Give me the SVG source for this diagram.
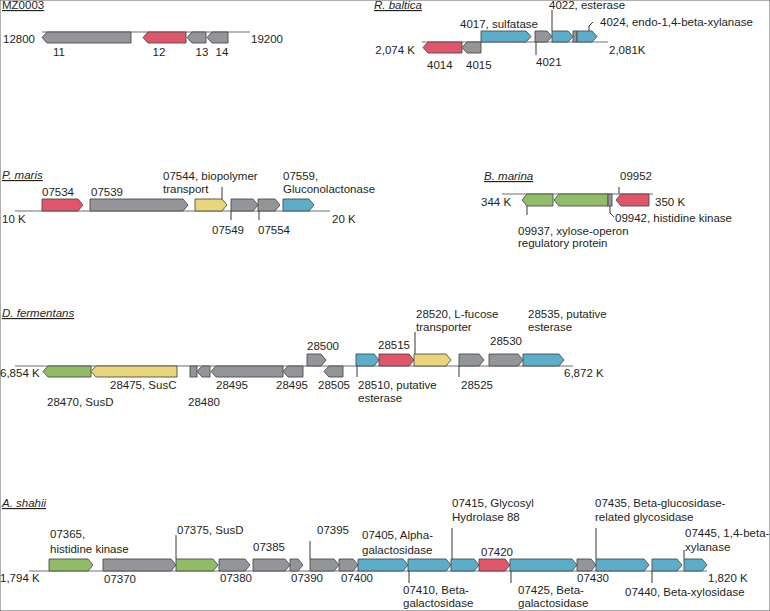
<svg xmlns="http://www.w3.org/2000/svg" width="770" height="611" viewBox="0 0 770 611">
<style>
text{font-family:"Liberation Sans",Arial,sans-serif;font-size:11.5px;fill:#231f20}
.t{text-decoration:underline;font-style:italic}
.tn{text-decoration:underline}
.ln{stroke:#6d6e71;stroke-width:1.2;fill:none}
.ld{stroke:#231f20;stroke-width:0.9;fill:none}
polygon,rect{stroke:#4d4d4f;stroke-width:0.9}
.g{fill:#939598}.r{fill:#e05569}.b{fill:#5badc8}.y{fill:#e9d67a}.gr{fill:#92bc66}
</style>
<rect width="770" height="611" fill="#fff" stroke="none"/>

<g id="MZ0003">
<text class="tn" x="2" y="9">MZ0003</text>
<line class="ln" x1="42" y1="32" x2="250" y2="32"/>
<polygon class="g" points="42,37.5 47,32 131,32 131,43 47,43"/>
<polygon class="r" points="143,37.5 148,32 186,32 186,43 148,43"/>
<polygon class="g" points="187,37.5 192,32 206,32 206,43 192,43"/>
<polygon class="g" points="207,37.5 212,32 228,32 228,43 212,43"/>
<text x="3" y="43">12800</text>
<text x="251" y="43">19200</text>
<text x="59" y="56" text-anchor="middle">11</text>
<text x="159" y="56" text-anchor="middle">12</text>
<text x="202" y="56" text-anchor="middle">13</text>
<text x="222" y="56" text-anchor="middle">14</text>
</g>

<g id="R_baltica">
<text class="t" x="374" y="9">R. baltica</text>
<line class="ln" x1="422" y1="42" x2="608" y2="42"/>
<polygon class="r" points="423,47.5 428,42 462,42 462,53 428,53"/>
<polygon class="g" points="462,47.5 467,42 481,42 481,53 467,53"/>
<polygon class="b" points="481,31 526,31 531,36.5 526,42 481,42"/>
<polygon class="g" points="535,31 547,31 552,36.5 547,42 535,42"/>
<polygon class="b" points="552,31 568,31 573,36.5 568,42 552,42"/>
<rect class="g" x="573" y="31" width="4" height="11"/>
<polygon class="b" points="577,31 592,31 597,36.5 592,42 577,42"/>
<text x="415" y="54" text-anchor="end">2,074 K</text>
<text x="609" y="54">2,081K</text>
<text x="460" y="28">4017, sulfatase</text>
<text x="549" y="9">4022, esterase</text>
<text x="600" y="26">4024, endo-1,4-beta-xylanase</text>
<text x="427" y="69">4014</text>
<text x="466" y="69">4015</text>
<text x="536" y="66">4021</text>
</g>

<g id="P_maris">
<text class="t" x="2" y="179">P. maris</text>
<line class="ln" x1="15" y1="211" x2="330" y2="211"/>
<polygon class="r" points="42,199 78,199 83,205 78,211 42,211"/>
<polygon class="g" points="90,199 183,199 188,205 183,211 90,211"/>
<polygon class="y" points="195,199 222,199 227,205 222,211 195,211"/>
<polygon class="g" points="231,199 253,199 258,205 253,211 231,211"/>
<polygon class="g" points="258,199 275,199 280,205 275,211 258,211"/>
<polygon class="b" points="283,199 309,199 314,205 309,211 283,211"/>
<text x="2" y="223">10 K</text>
<text x="332" y="223">20 K</text>
<text x="42" y="196">07534</text>
<text x="91" y="196">07539</text>
<text x="163" y="180">07544, biopolymer</text>
<text x="163" y="193">transport</text>
<text x="283" y="180">07559,</text>
<text x="283" y="193">Gluconolactonase</text>
<text x="212" y="234">07549</text>
<text x="258" y="234">07554</text>
</g>

<g id="B_marina">
<text class="t" x="484" y="180">B. marina</text>
<line class="ln" x1="502" y1="194" x2="653" y2="194"/>
<polygon class="gr" points="522,200 527,194 553,194 553,206 527,206"/>
<polygon class="gr" points="554,200 559,194 608,194 608,206 559,206"/>
<rect class="g" x="608" y="194" width="4" height="12"/>
<polygon class="r" points="616,200 621,194 649,194 649,206 621,206"/>
<text x="481" y="206">344 K</text>
<text x="655" y="206">350 K</text>
<text x="620" y="180">09952</text>
<text x="615" y="222">09942, histidine kinase</text>
<text x="518" y="235">09937, xylose-operon</text>
<text x="518" y="247">regulatory protein</text>
</g>

<g id="D_fermentans">
<text class="t" x="2" y="317">D. fermentans</text>
<line class="ln" x1="15" y1="366" x2="573" y2="366"/>
<polygon class="gr" points="43,371.5 48,366 91,366 91,377 48,377"/>
<polygon class="y" points="91,371.5 96,366 177,366 177,377 96,377"/>
<rect class="g" x="190" y="366" width="7" height="11"/>
<polygon class="g" points="197,371.5 202,366 210,366 210,377 202,377"/>
<polygon class="g" points="211,371.5 216,366 283,366 283,377 216,377"/>
<polygon class="g" points="283,371.5 288,366 303,366 303,377 288,377"/>
<polygon class="g" points="324,371.5 329,366 343,366 343,377 329,377"/>
<polygon class="g" points="307,354 321,354 326,360 321,366 307,366"/>
<polygon class="b" points="356,354 374,354 379,360 374,366 356,366"/>
<polygon class="r" points="379,354 409,354 414,360 409,366 379,366"/>
<polygon class="y" points="414,354 446,354 451,360 446,366 414,366"/>
<polygon class="g" points="459,354 479,354 484,360 479,366 459,366"/>
<polygon class="g" points="489,354 518,354 523,360 518,366 489,366"/>
<polygon class="b" points="523,354 559,354 564,360 559,366 523,366"/>
<text x="0" y="377">6,854 K</text>
<text x="564" y="377">6,872 K</text>
<text x="307" y="350">28500</text>
<text x="378" y="349">28515</text>
<text x="416" y="318">28520, L-fucose</text>
<text x="416" y="331">transporter</text>
<text x="528" y="318">28535, putative</text>
<text x="528" y="331">esterase</text>
<text x="490" y="345">28530</text>
<text x="461" y="389">28525</text>
<text x="358" y="389">28510, putative</text>
<text x="358" y="402">esterase</text>
<text x="110" y="389">28475, SusC</text>
<text x="216" y="389">28495</text>
<text x="276" y="389">28495</text>
<text x="318" y="389">28505</text>
<text x="47" y="406">28470, SusD</text>
<text x="188" y="406">28480</text>
</g>

<g id="A_shahii">
<text class="t" x="2" y="507">A. shahii</text>
<line class="ln" x1="29" y1="571" x2="707" y2="571"/>
<polygon class="gr" points="49,559 88,559 93,565 88,571 49,571"/>
<polygon class="g" points="103,559 171,559 176,565 171,571 103,571"/>
<polygon class="gr" points="176,559 213,559 218,565 213,571 176,571"/>
<polygon class="g" points="219,559 245,559 250,565 245,571 219,571"/>
<polygon class="g" points="253,559 285,559 290,565 285,571 253,571"/>
<polygon class="g" points="290,559 298,559 303,565 298,571 290,571"/>
<polygon class="g" points="310,559 334,559 339,565 334,571 310,571"/>
<polygon class="g" points="339,559 353,559 358,565 353,571 339,571"/>
<polygon class="b" points="358,559 403,559 408,565 403,571 358,571"/>
<polygon class="b" points="408,559 446,559 451,565 446,571 408,571"/>
<polygon class="b" points="451,559 474,559 479,565 474,571 451,571"/>
<polygon class="r" points="479,559 505,559 510,565 505,571 479,571"/>
<polygon class="b" points="510,559 572,559 577,565 572,571 510,571"/>
<polygon class="g" points="577,559 591,559 596,565 591,571 577,571"/>
<polygon class="b" points="596,559 644,559 649,565 644,571 596,571"/>
<polygon class="b" points="652,559 677,559 682,565 677,571 652,571"/>
<polygon class="b" points="684,559 702,559 707,565 702,571 684,571"/>
<text x="0" y="582">1,794 K</text>
<text x="708" y="582">1,820 K</text>
<text x="50" y="538">07365,</text>
<text x="50" y="553">histidine kinase</text>
<text x="177" y="534">07375, SusD</text>
<text x="253" y="551">07385</text>
<text x="317" y="534">07395</text>
<text x="362" y="539">07405, Alpha-</text>
<text x="362" y="554">galactosidase</text>
<text x="452" y="507">07415, Glycosyl</text>
<text x="452" y="521">Hydrolase 88</text>
<text x="481" y="556">07420</text>
<text x="595" y="507">07435, Beta-glucosidase-</text>
<text x="595" y="521">related glycosidase</text>
<text x="685" y="537">07445, 1,4-beta-</text>
<text x="685" y="551">xylanase</text>
<text x="104" y="583">07370</text>
<text x="220" y="582">07380</text>
<text x="291" y="582">07390</text>
<text x="341" y="582">07400</text>
<text x="577" y="582">07430</text>
<text x="403" y="594">07410, Beta-</text>
<text x="403" y="607">galactosidase</text>
<text x="518" y="594">07425, Beta-</text>
<text x="518" y="607">galactosidase</text>
<text x="625" y="596">07440, Beta-xylosidase</text>
</g>

<g id="connectors">
<path class="ld" d="M552,10V31"/>
<path class="ld" d="M589,31V26L593,22"/>
<path class="ld" d="M536,42V55"/>
<path class="ld" d="M222,187V199"/>
<path class="ld" d="M231,211V220"/>
<path class="ld" d="M259,211V220"/>
<path class="ld" d="M619,187V194"/>
<path class="ld" d="M610,206V213L614,217"/>
<path class="ld" d="M527,206V215"/>
<path class="ld" d="M415,332V354"/>
<path class="ld" d="M459,366V377"/>
<path class="ld" d="M357,366V377"/>
<path class="ld" d="M176,535V559"/>
<path class="ld" d="M310,541V559"/>
<path class="ld" d="M452,528V559"/>
<path class="ld" d="M596,528V559"/>
<path class="ld" d="M684,550V559"/>
<path class="ld" d="M409,571V583"/>
<path class="ld" d="M511,571V583"/>
<path class="ld" d="M652,571V583"/>
</g>
</svg>
